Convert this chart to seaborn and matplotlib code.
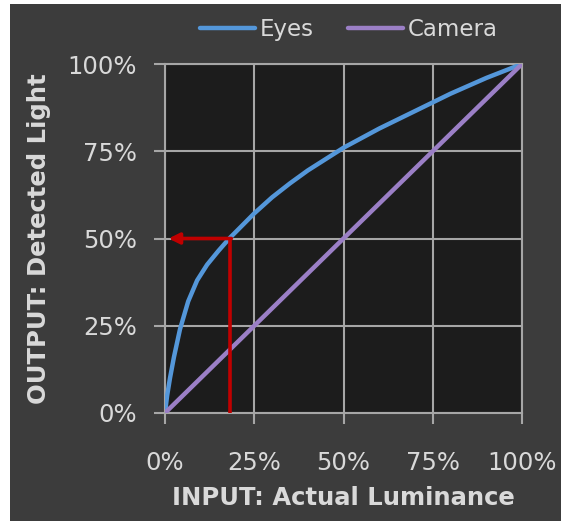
import pandas as pd
import matplotlib.pyplot as plt
import seaborn as sns
from matplotlib.patches import Rectangle

# values
input_lum = [0.0, 0.006, 0.014, 0.025, 0.042, 0.065, 0.09, 0.118, 0.15, 0.18,
             0.25, 0.3, 0.35, 0.4, 0.5, 0.6, 0.7, 0.75, 0.8, 0.9, 1.0]
eyes_out = [0.0, 0.05, 0.10, 0.16, 0.24, 0.32, 0.38, 0.425, 0.465, 0.50,
            0.572, 0.618, 0.658, 0.695, 0.76, 0.815, 0.865, 0.89, 0.915, 0.96, 1.0]
camera_in = [0.0, 1.0]
camera_out = [0.0, 1.0]
marker_x = 0.182   # red arrow: input level
marker_y = 0.5     # red arrow: detected level
ticks = [0, 0.25, 0.5, 0.75, 1.0]
tick_labels = ['0%', '25%', '50%', '75%', '100%']

df = pd.concat([
    pd.DataFrame({'x': input_lum, 'y': eyes_out, 'serie': 'Eyes'}),
    pd.DataFrame({'x': camera_in, 'y': camera_out, 'serie': 'Camera'}),
])

bg = '#3c3c3c'
grid_c = '#a6a6a6'
txt_c = '#d9d9d9'
fs = 17.5

sns.set_theme(style='dark')
plt.rcParams['font.family'] = ['DejaVu Sans']

fig = plt.figure(figsize=(5.61, 5.21), dpi=100)
fig.patch.set_facecolor('white')
fig.patches.append(Rectangle((10 / 561, -0.1), 1.2, 1.1 - 4 / 521, transform=fig.transFigure,
                             facecolor=bg, edgecolor='none', zorder=-10))
ax = fig.add_axes([165 / 561, 1 - 413 / 521, 357 / 561, 349 / 521])
ax.set_facecolor('#1c1c1c')

sns.lineplot(data=df, x='x', y='y', hue='serie', ax=ax, sort=False,
             palette={'Eyes': '#5497da', 'Camera': '#9b7fc6'}, linewidth=3.2, zorder=3)

# flèche rouge
ax.plot([marker_x, marker_x], [0, marker_y], color='#c00000', lw=2.6, zorder=4, solid_capstyle='butt')
ax.annotate('', xy=(0.01, marker_y), xytext=(marker_x + 0.004, marker_y),
            arrowprops=dict(arrowstyle='-|>', color='#c00000', lw=2.6,
                            mutation_scale=16, shrinkA=0, shrinkB=0), zorder=4)

ax.set_xlim(0, 1)
ax.set_ylim(0, 1)
ax.set_xticks(ticks)
ax.set_xticklabels(tick_labels)
ax.set_yticks(ticks)
ax.set_yticklabels(tick_labels)
ax.grid(True, color=grid_c, lw=1.5)
for s in ax.spines.values():
    s.set_visible(True)
    s.set_color(grid_c)
    s.set_linewidth(1.5)
ax.tick_params(axis='both', colors=grid_c, labelcolor=txt_c, labelsize=fs,
               length=8, width=1.5, direction='out', bottom=True, left=True)
ax.tick_params(axis='x', pad=19)
ax.tick_params(axis='y', pad=12)

ax.set_xlabel('INPUT: Actual Luminance', color=txt_c, fontsize=fs, fontweight='bold', labelpad=8)
ax.set_ylabel('OUTPUT: Detected Light', color=txt_c, fontsize=fs, fontweight='bold', labelpad=12)

leg = ax.legend(loc='lower center', bbox_to_anchor=(0.515, 1.065), ncol=2, frameon=False,
                fontsize=16.5, handlelength=2.4, columnspacing=1.5, handletextpad=0.2,
                borderaxespad=0, borderpad=0)
for t in leg.get_texts():
    t.set_color(txt_c)

fig.savefig('out.png', dpi=100, facecolor=fig.get_facecolor())
